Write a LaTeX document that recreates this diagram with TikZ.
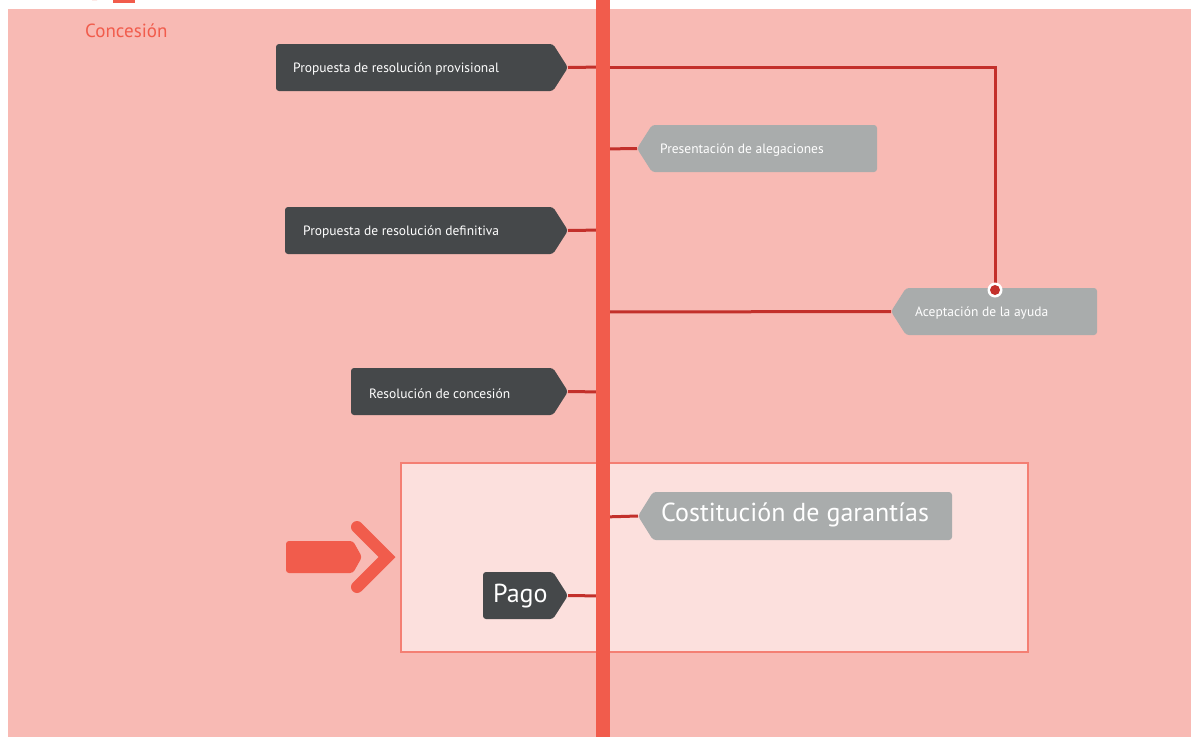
\documentclass[tikz,border=0pt]{standalone}
\usepackage{fontspec}
\setmainfont{PT Sans}
\definecolor{bgpink}{HTML}{F8BAB4}
\definecolor{barred}{HTML}{F15C4C}
\definecolor{connred}{HTML}{C3302B}
\definecolor{darkbox}{HTML}{45484A}
\definecolor{graybox}{HTML}{A9ACAC}
\definecolor{lightfill}{HTML}{FCE0DD}
\definecolor{lightdraw}{HTML}{F47F73}
\tikzset{
  conn/.style={draw=connred, line width=3pt},
  smalltxt/.style={anchor=west, text=white, inner sep=0pt, font=\fontsize{13.5}{15}\selectfont},
  bigtxt/.style={anchor=west, text=white, inner sep=0pt, font=\fontsize{26}{30}\selectfont},
}
% dark box pointing right: name, xleft, ytop, ybot, xtip
\newcommand{\darkshape}[5]{%
  \fill[darkbox, rounded corners=3pt] (#2,#3) -- (#5-15,#3) -- (#5,{(#3+#4)/2}) -- (#5-15,#4) -- (#2,#4) -- cycle;
  \coordinate (#1) at (#5,{(#3+#4)/2});}
% gray box pointing left: name, xtip, ytop, ybot, xright
\newcommand{\grayshape}[5]{%
  \fill[graybox, rounded corners=3pt] (#2+15,#3) -- (#5,#3) -- (#5,#4) -- (#2+15,#4) -- (#2,{(#3+#4)/2}) -- cycle;
  \coordinate (#1) at (#2,{(#3+#4)/2});}
\begin{document}
\begin{tikzpicture}[x=1pt,y=-1pt]
\fill[white] (0,0) rectangle (1191,737);
\useasboundingbox (0,0) rectangle (1191,737);
\fill[bgpink] (8,9) rectangle (1191,737);
% cut-off fragments at the top
\fill[barred] (113,0) rectangle (135,2.5);
\fill[barred] (92,0) arc[start angle=180, end angle=360, x radius=2.5pt, y radius=-2pt] -- cycle;
% title
\node[anchor=west, text=barred, inner sep=0pt, font=\fontsize{19}{21}\selectfont] (title) at (85,31) {Concesión};
% light box
\draw[fill=lightfill, draw=lightdraw, line width=2.5pt] (401,463) rectangle (1028,652);
% bar coordinates
\coordinate (b1) at (603,67);
\coordinate (b2) at (603,149);
\coordinate (b3) at (603,230);
\coordinate (b4) at (603,312);
\coordinate (b5) at (603,392);
\coordinate (b6) at (603,517);
\coordinate (b7) at (603,596);
\coordinate (corner) at (995,67);
\coordinate (dot) at (995,290);
% boxes
\darkshape{t1}{276}{44}{91}{568}
\grayshape{t2}{637}{125}{172}{877}
\darkshape{t3}{285}{207}{254}{568}
\grayshape{t4}{891}{288}{335}{1097}
\darkshape{t5}{351}{368}{415}{568}
\grayshape{t6}{638}{492}{540}{952}
\darkshape{t7}{483}{572}{619}{568}
% connectors
\draw[conn] (t1) -- (b1);
\draw[conn] (b1) -- (corner) -- (dot);
\draw[conn] (b2) -- (t2);
\draw[conn] (t3) -- (b3);
\draw[conn] (b4) -- (t4);
\draw[conn] (t5) -- (b5);
\draw[conn] (b6) -- (t6);
\draw[conn] (t7) -- (b7);
% vertical bar
\fill[barred] (596,0) rectangle (610,737);
% dot
\fill[white] (dot) circle (7.5pt);
\fill[connred] (dot) circle (5pt);
% labels
\node[smalltxt] (l1) at (293,68.5) {Propuesta de resolución provisional};
\node[smalltxt] (l2) at (660,150.5) {Presentación de alegaciones};
\node[smalltxt] (l3) at (303,231.5) {Propuesta de resolución definitiva};
\node[smalltxt] (l4) at (915,313.5) {Aceptación de la ayuda};
\node[smalltxt] (l5) at (369,393.5) {Resolución de concesión};
\node[bigtxt] (l6) at (661,515) {Costitución de garantías};
\node[bigtxt] (l7) at (493,596) {Pago};
% left arrow
\fill[barred, rounded corners=3pt] (286,541) -- (353,541) -- (362,557) -- (353,573) -- (286,573) -- cycle;
\draw[barred, line width=12pt, line cap=round, line join=miter] (357,527) -- (387,557) -- (357,587);
\end{tikzpicture}
\end{document}
